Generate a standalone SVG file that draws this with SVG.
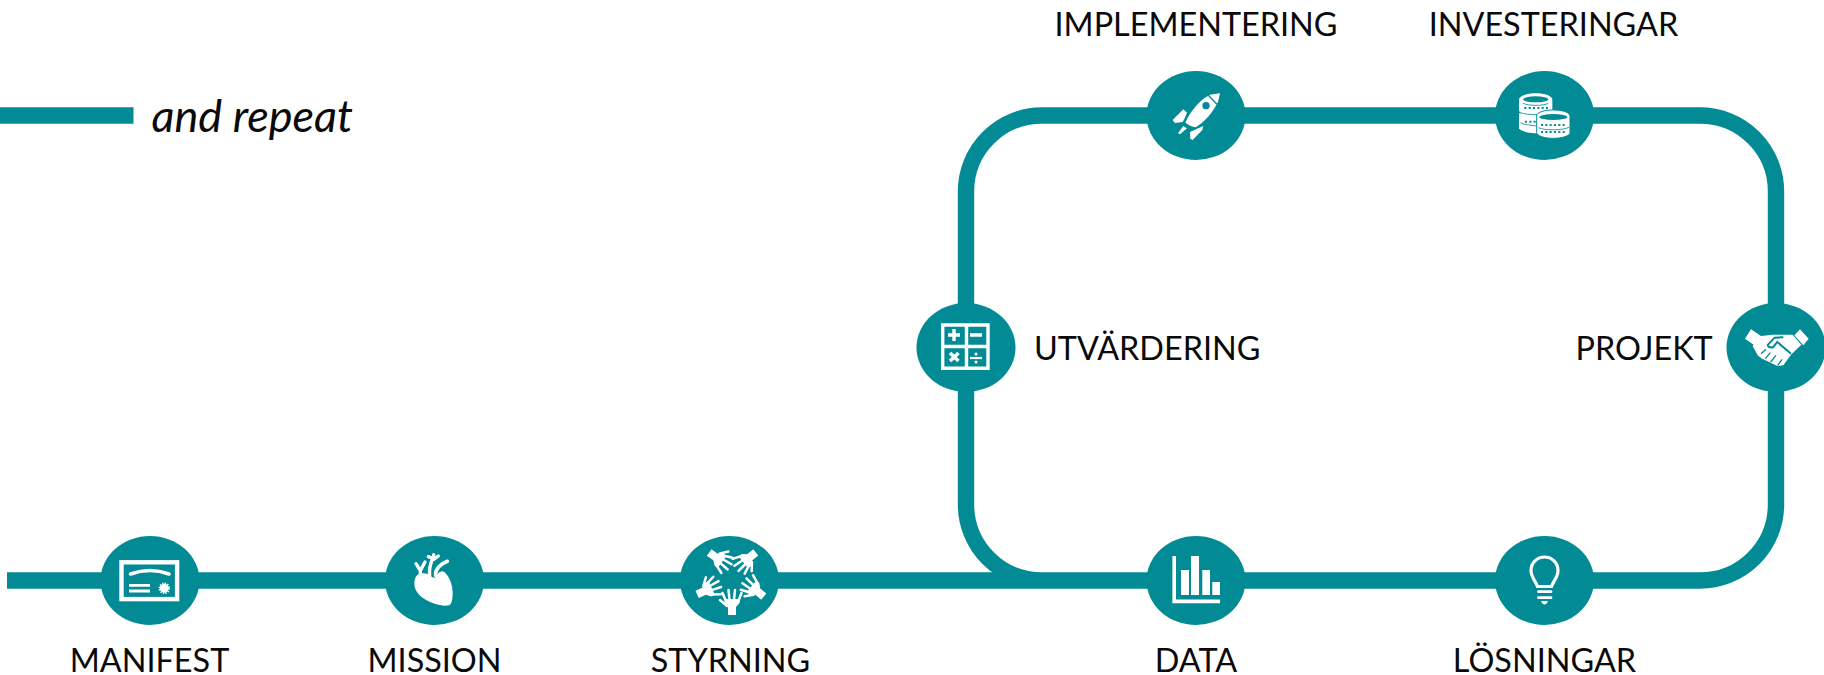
<svg xmlns="http://www.w3.org/2000/svg" width="1824" height="675" viewBox="0 0 1824 675">
<style>
.ln{fill:none;stroke:#028b95;stroke-width:16.4}
.bg{fill:#028b95}
.w{fill:#fff}
.ws{fill:none;stroke:#fff}
.bs{fill:none;stroke:#028b95}
text{font-family:Lato,"Liberation Sans",sans-serif;font-size:32.4px;fill:#0a0a0a}
.m{text-anchor:middle}
</style>
<defs>
<g id="hand">
<path class="w" d="M-4 1V-7L-7.500-11V-15H7.500V-11L4-7V1Z"/>
<path class="ws" d="M-6-13L-9.500-21M-2.500-14L-3.500-24M2-14L3-24M6-12L9.500-21M-5-8L-12-14" stroke-width="2.500" stroke-linecap="round"/>
</g>
</defs>
<rect width="1824" height="675" fill="#fff"/>
<g id="connectors">
<path class="ln" d="M0 115.500H133.500"/>
<path class="ln" d="M7 580.500H1700A76 76 0 0 0 1776 504.500V191.500A76 76 0 0 0 1700 115.500H1042A76 76 0 0 0 966 191.500V504.500A76 76 0 0 0 1042 580.500"/>
</g>
<text id="legend" x="151.500" y="131.500" style="font-size:45px;font-style:italic">and repeat</text>
<g id="manifest"><ellipse class="bg" cx="150" cy="580.500" rx="49.500" ry="44.500"/>
<rect class="ws" x="121.500" y="562.300" width="55.600" height="36.800" stroke-width="4.400"/>
<path class="ws" d="M130.500 574Q150 567 169 574" stroke-width="3.600" stroke-linecap="round"/>
<path class="ws" d="M129 585.300H150M129 591H150" stroke-width="2.800"/>
<circle class="w" cx="164.300" cy="588.300" r="4.500"/>
<circle class="ws" cx="164.300" cy="588.300" r="5" stroke-width="1.600" stroke-dasharray="1.300 1.300"/>
<text class="m" x="149.500" y="672">MANIFEST</text></g>
<g id="mission"><ellipse class="bg" cx="434.500" cy="580.500" rx="49.500" ry="44.500"/>
<g transform="translate(385 536) scale(.33333)">
<path class="w" d="M100 115C115 108 130 112 142 124L150 125C155 115 168 100 178 108C192 120 203 145 203 170C203 190 200 205 192 208C170 212 140 203 120 190C100 178 88 162 88 142C88 130 92 120 100 115Z"/>
<path class="ws" d="M93 83L106 104M120 78L106 104V114" stroke-width="10" stroke-linecap="round"/>
<path class="ws" d="M134 118C132 100 135 85 143 68M130 62L146 68M146 56V68M160 60L146 70" stroke-width="10" stroke-linecap="round"/>
<path class="ws" d="M152 118C150 100 165 84 187 76" stroke-width="11" stroke-linecap="round"/>
</g>
<text class="m" x="434.500" y="672">MISSION</text></g>
<g id="styrning"><ellipse class="bg" cx="729.500" cy="580.500" rx="49.500" ry="44.500"/>
<use href="#hand" transform="translate(732 614)"/>
<use href="#hand" transform="translate(698 594) rotate(66)"/>
<use href="#hand" transform="translate(710 553) rotate(126)"/>
<use href="#hand" transform="translate(755 553) rotate(-129)"/>
<use href="#hand" transform="translate(763 596) rotate(-50)"/>
<text class="m" x="730.500" y="672">STYRNING</text></g>
<g id="data"><ellipse class="bg" cx="1196" cy="580.500" rx="49.500" ry="44.500"/>
<path class="ws" d="M1174.200 556V601.400H1220" stroke-width="3.600"/>
<path class="w" d="M1181 570H1189V595H1181ZM1191 556H1199V595H1191ZM1202.300 570H1210V595H1202.300ZM1212.300 582H1220V595H1212.300Z"/>
<text class="m" x="1196" y="672">DATA</text></g>
<g id="losningar"><ellipse class="bg" cx="1544.500" cy="580.500" rx="49.500" ry="44.500"/>
<path class="ws" d="M1537.500 586.500C1535 580 1531 577 1531 570.500A13.500 13.500 0 0 1 1558 570.500C1558 577 1554 580 1551.500 586.500Z" stroke-width="3.200"/>
<path class="ws" d="M1538.500 591.700H1551M1538.500 597.700H1551" stroke-width="2.800" stroke-linecap="round"/>
<path class="w" d="M1541 601H1548Q1546.500 604.500 1544.500 604.500Q1542.500 604.500 1541 601Z"/>
<text class="m" x="1544.500" y="672">LÖSNINGAR</text></g>
<g id="utvardering"><ellipse class="bg" cx="966" cy="347.500" rx="49.500" ry="44.500"/>
<path class="ws" d="M942.700 325H988V368.300H942.700ZM966.500 325V368.300M942.700 346.500H988" stroke-width="3.400"/>
<path class="ws" d="M948 335H960M954 329V341M970 335H982" stroke-width="3.400"/>
<path class="ws" d="M950 353L958.500 361M958.500 353L950 361" stroke-width="3.600"/>
<path class="ws" d="M970 358H982" stroke-width="2.200"/>
<circle class="w" cx="976" cy="354" r="1.500"/><circle class="w" cx="976" cy="362" r="1.500"/>
<text x="1034" y="359.500">UTVÄRDERING</text></g>
<g id="projekt"><ellipse class="bg" cx="1776" cy="347.500" rx="49.500" ry="44.500"/>
<g transform="translate(1726 302) scale(.33333)">
<path class="w" d="M75 82L105 102 85 130 57 110ZM222 82L248 110 232 130 205 100Z"/>
<path class="w" d="M100 103L138 98H200L226 128 195 158 172 190 155 192 140 185 125 178 108 170 95 160 80 133Z"/>
<path class="bs" d="M124 130L146 107 172 106M124 130Q132 140 142 135L154 120 195 155" stroke-width="6"/>
<path class="bs" d="M120 142L105 155M133 152L118 170M150 160L134 180M168 172L155 190" stroke-width="4"/>
</g>
<text x="1575.500" y="359.500">PROJEKT</text></g>
<g id="implementering"><ellipse class="bg" cx="1196" cy="115.500" rx="49.500" ry="44.500"/>
<g transform="translate(1040 0) scale(.33333)">
<path class="w" d="M540 280L510 284 504 288C480 300 450 335 436 368C445 375 455 380 467 382C495 365 520 335 530 312L534 306Z"/>
<path class="bs" d="M505 286L530 312" stroke-width="4"/>
<circle class="bg" cx="498" cy="317" r="11"/>
<path class="w" d="M398 360L430 328 441 338C436 350 432 360 428 366L405 369ZM414 400L430 378 441 385 420 403ZM450 396L490 378 487 390 458 420 451 416Z"/>
</g>
<text class="m" x="1196" y="36">IMPLEMENTERING</text></g>
<g id="investeringar"><ellipse class="bg" cx="1544.500" cy="115.500" rx="49.500" ry="44.500"/>
<g transform="translate(1495 70) scale(.33333)">
<path class="w" d="M72 90C72 78 95 70 122 70C150 70 172 78 172 90V120C172 130 150 138 122 138C95 138 72 130 72 120Z"/>
<path class="w" d="M72 130V175C80 187 110 190 130 190L175 160V130Z"/>
<ellipse class="bg" cx="122" cy="88" rx="38" ry="9"/>
<path class="bs" d="M84 100C100 108 145 108 160 100M76 128C100 136 140 136 168 124M76 158C85 163 100 165 125 168" stroke-width="2.500"/>
<path class="bs" d="M88 114H160M90 155H125" stroke-width="6" stroke-dasharray="6 7"/>
<path class="w" d="M125 138C125 126 150 120 175 120C202 120 225 126 225 140V188C225 198 200 205 175 205C150 205 125 198 125 188Z" stroke="#028b95" stroke-width="3"/>
<ellipse class="bg" cx="175" cy="141" rx="42" ry="9"/>
<path class="bs" d="M130 173C150 182 200 182 222 172" stroke-width="2.500"/>
<path class="bs" d="M138 165H215M138 186H215" stroke-width="6" stroke-dasharray="6 7"/>
</g>
<text class="m" x="1553.500" y="36">INVESTERINGAR</text></g>
</svg>
